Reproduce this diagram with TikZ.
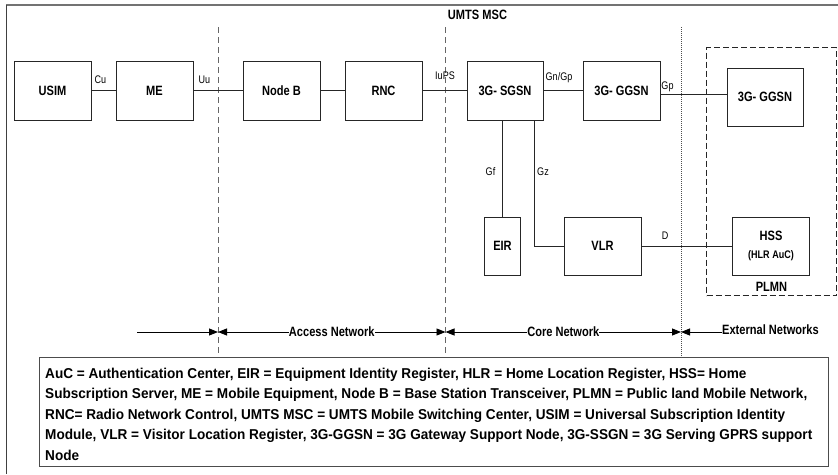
\documentclass[tikz,border=0pt]{standalone}
\usepackage{fontspec}
\setmainfont[FakeStretch=0.82]{Liberation Sans}
\newfontfamily\legfont[FakeStretch=0.95]{Liberation Sans}
\usetikzlibrary{arrows.meta}
\tikzset{
  unit/.style={draw=black!85, line width=0.9pt, fill=white, inner sep=0pt,
    font=\bfseries\fontsize{13.5}{15}\selectfont, minimum width=77pt, minimum height=59pt},
  lbl/.style={inner sep=0pt, font=\fontsize{11}{12}\selectfont},
  conn/.style={draw=black!85, line width=0.9pt},
  boundary/.style={draw=black!60, line width=1pt, dash pattern=on 6pt off 4pt},
  dotline/.style={draw=black!70, line width=0.6pt, dash pattern=on 1pt off 1pt},
  tip/.tip={Triangle[length=9pt,width=7pt]},
  span/.style={line width=0.9pt, tip-tip},
  boldtxt/.style={font=\bfseries\fontsize{13.5}{15}\selectfont, inner sep=0pt},
  plmnbox/.style={draw=black!85, line width=1.1pt, dash pattern=on 6pt off 3pt, minimum width=130pt, minimum height=248pt, inner sep=0pt}
}
\begin{document}
\begin{tikzpicture}[x=1pt,y=-1pt]
\useasboundingbox (0,0) rectangle (838,474);
% outer frame
\draw[black!55, line width=1.6pt] (6,5) -- (838,5);
\draw[black!75, line width=1pt] (6,5) -- (6,474);

% legend box
\node[draw=black!70, line width=1pt, minimum width=789pt, minimum height=109pt, inner sep=0pt, anchor=north west] (legend) at (38.5,356.5) {};
\node[anchor=north west, align=left, inner sep=0pt, font=\legfont\bfseries\fontsize{14.3}{20.6}\selectfont] (legtext) at (45,367.5)
{AuC = Authentication Center, EIR = Equipment Identity Register, HLR = Home Location Register, HSS= Home\\
Subscription Server, ME = Mobile Equipment, Node B = Base Station Transceiver, PLMN = Public land Mobile Network,\\
RNC= Radio Network Control, UMTS MSC = UMTS Mobile Switching Center, USIM = Universal Subscription Identity\\
Module, VLR = Visitor Location Register, 3G-GGSN = 3G Gateway Support Node, 3G-SSGN = 3G Serving GPRS support\\
Node};

% boundaries
\coordinate (d1) at (218,27);
\coordinate (d2) at (445.5,27);
\coordinate (d3) at (681,27);
\draw[boundary] (d1) -- (d1 |- legend.north);
\draw[boundary] (d2) -- (d2 |- legend.north);
\draw[dotline] (d3) -- (d3 |- legend.north);

\node[boldtxt] (msc) at (477.5,15) {UMTS MSC};

% PLMN
\node[plmnbox, anchor=north west] (plmn) at (706,47) {};
\node[boldtxt] (plmnlbl) at (771.5,287) {PLMN};

% units
\node[unit] (usim) at (52.5,90.5) {USIM};
\node[unit] (me) at (154.5,90.5) {ME};
\node[unit] (nodeb) at (281.5,90.5) {Node B};
\node[unit] (rnc) at (383.5,90.5) {RNC};
\node[unit, minimum width=76pt] (sgsn) at (505,90.5) {3G- SGSN};
\node[unit] (ggsn) at (621.5,90.5) {3G- GGSN};
\node[unit, minimum width=76pt, minimum height=58pt] (ggsn2) at (765,97) {3G- GGSN};
\node[unit, minimum width=36pt, minimum height=58pt] (eir) at (502.5,246) {EIR};
\node[unit, minimum height=58pt] (vlr) at (602.5,246) {VLR};
\node[unit, minimum height=58pt, align=center] (hss) at (771,246) {HSS\\[3pt]{\fontsize{11}{12}\selectfont(HLR AuC)}};

% connectors
\draw[conn] (usim) -- (me);
\draw[conn] (me) -- (nodeb);
\draw[conn] (nodeb) -- (rnc);
\draw[conn] (rnc) -- (sgsn);
\draw[conn] (sgsn) -- (ggsn);
\draw[conn] ([yshift=-3.5pt]ggsn.east) -- ([yshift=3pt]ggsn2.west);
\draw[conn] (eir.north) -- (eir.north |- sgsn.south);
\draw[conn] ([xshift=29pt]sgsn.south) |- (vlr.west);
\draw[conn] (vlr) -- (hss);

% interface labels
\node[lbl] (cu) at (100.5,80) {Cu};
\node[lbl] (uu) at (204.5,80) {Uu};
\node[lbl] (iups) at (445,76) {IuPS};
\node[lbl] (gngp) at (559,78) {Gn/Gp};
\node[lbl] (gp) at (667.5,87) {Gp};
\node[lbl] (gf) at (490.5,172) {Gf};
\node[lbl] (gz) at (543,172) {Gz};
\node[lbl] (d) at (665,235.5) {D};

% network spans
\coordinate (b0) at (137,332);
\coordinate (b1) at (218,332);
\coordinate (b2) at (445.5,332);
\coordinate (b3) at (681,332);
\draw[line width=0.9pt, -tip] (b0) -- (b1);
\draw[span] (b1) -- (b2) node[midway, fill=white, boldtxt] (acc) {Access Network};
\draw[span] (b2) -- (b3) node[midway, fill=white, boldtxt] (core) {Core Network};
\node[boldtxt, anchor=west] (ext) at (722,330) {External Networks};
\draw[line width=0.9pt, tip-] (b3) -- (ext.west |- b3);
\end{tikzpicture}
\end{document}
